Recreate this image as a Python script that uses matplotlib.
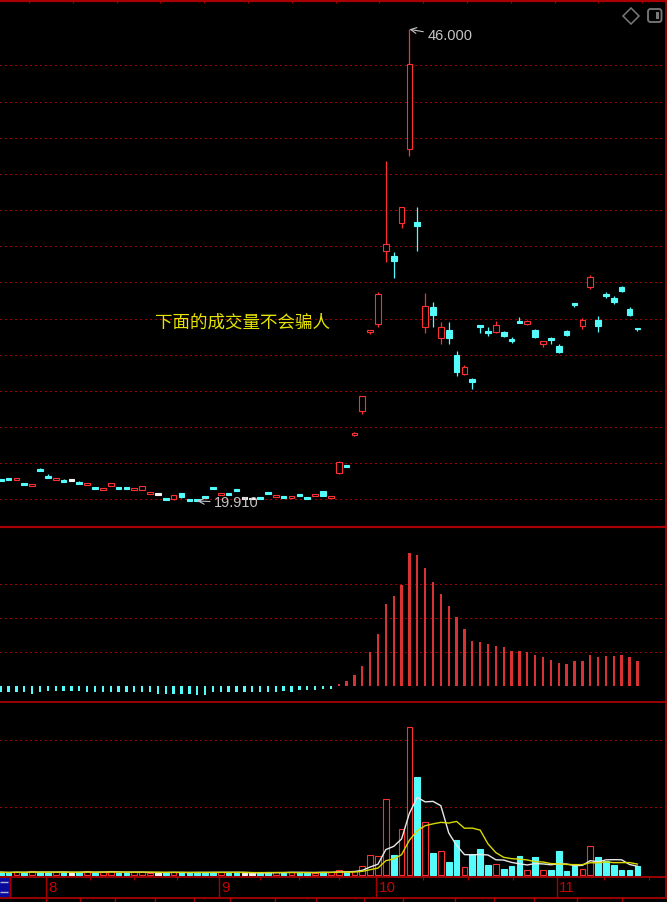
import numpy as np
import pandas as pd
import matplotlib
matplotlib.use('Agg')
import matplotlib.pyplot as plt
import matplotlib.patches as mpatches

# daily bars, Aug .. Nov (82 sessions)
opens = [21.09, 21.15, 21.11, 20.88, 20.77, 21.63, 21.27, 21.11, 21.02, 21.06,
         20.94, 20.83, 20.67, 20.54, 20.74, 20.67, 20.67, 20.56, 20.54, 20.35,
         20.30, 20.06, 20.00, 20.34, 19.97, 20.00, 20.17, 20.67, 20.25, 20.32,
         20.52, 20.06, 20.05, 20.08, 20.39, 20.16, 20.17, 20.09, 20.25, 20.10,
         20.20, 20.45, 20.09, 21.44, 21.88, 23.60, 24.91, 29.26, 29.68, 33.75,
         33.46, 35.27, 39.36, 35.33, 29.52, 30.62, 28.91, 29.37, 27.99, 26.92,
         26.66, 29.64, 29.29, 29.24, 29.24, 28.82, 29.85, 29.68, 29.37, 28.59,
         28.89, 28.47, 29.31, 30.82, 29.59, 31.73, 29.94, 31.32, 31.12, 31.73,
         30.53, 29.50]
highs = [21.10, 21.16, 21.18, 20.89, 20.85, 21.72, 21.38, 21.18, 21.13, 21.08,
         21.02, 20.88, 20.68, 20.61, 20.93, 20.68, 20.68, 20.63, 20.73, 20.40,
         20.32, 20.07, 20.24, 20.35, 19.98, 20.02, 20.18, 20.68, 20.32, 20.33,
         20.53, 20.08, 20.07, 20.09, 20.40, 20.23, 20.18, 20.16, 20.26, 20.11,
         20.27, 20.47, 20.16, 22.10, 21.90, 23.71, 25.72, 29.37, 31.49, 38.70,
         33.70, 36.19, 46.00, 36.19, 31.40, 30.90, 29.79, 29.79, 28.21, 27.43,
         26.70, 29.66, 29.52, 29.87, 29.31, 28.96, 30.07, 29.90, 29.42, 28.78,
         29.00, 28.61, 29.37, 30.84, 30.02, 32.41, 30.14, 31.45, 31.25, 31.80,
         30.62, 29.50]
lows = [21.03, 21.10, 21.10, 20.82, 20.76, 21.58, 21.22, 21.10, 20.97, 21.04,
        20.89, 20.82, 20.62, 20.53, 20.73, 20.62, 20.62, 20.55, 20.53, 20.34,
        20.28, 20.01, 19.99, 20.08, 19.93, 19.91, 20.12, 20.62, 20.24, 20.27,
        20.47, 20.04, 20.03, 20.03, 20.34, 20.15, 20.06, 20.08, 20.20, 20.05,
        20.19, 20.17, 20.08, 21.42, 21.82, 23.52, 24.71, 29.13, 29.52, 33.11,
        32.23, 34.99, 39.01, 33.75, 29.22, 29.52, 28.59, 28.59, 26.82, 26.90,
        26.12, 29.19, 29.04, 29.22, 28.96, 28.63, 29.79, 29.66, 28.94, 28.43,
        28.59, 28.08, 29.04, 30.62, 29.44, 31.64, 29.24, 31.15, 30.81, 31.47,
        30.16, 29.31]
closes = [21.04, 21.11, 21.17, 20.83, 20.84, 21.59, 21.23, 21.17, 20.98, 21.06,
          20.90, 20.87, 20.63, 20.60, 20.92, 20.63, 20.63, 20.62, 20.72, 20.39,
          20.30, 20.02, 20.23, 20.15, 19.94, 19.96, 20.13, 20.63, 20.31, 20.28,
          20.48, 20.06, 20.05, 20.04, 20.35, 20.22, 20.13, 20.15, 20.21, 20.06,
          20.26, 20.19, 20.15, 22.08, 21.84, 23.63, 25.72, 29.37, 31.36, 34.11,
          33.18, 36.19, 44.06, 35.12, 30.70, 30.20, 29.52, 28.91, 27.03, 27.31,
          26.49, 29.58, 29.25, 29.63, 29.05, 28.78, 29.81, 29.87, 28.96, 28.76,
          28.85, 28.14, 29.09, 30.77, 29.92, 32.28, 29.59, 31.28, 30.90, 31.53,
          30.21, 29.41]

# indicator of the middle panel
indicator = [-5.7, -5.7, -5.7, -6.3, -7.7, -5.7, -5.0, -5.0, -5.0, -5.0,
             -5.0, -6.3, -6.3, -6.3, -6.3, -6.3, -6.3, -6.3, -6.3, -6.3,
             -7.7, -7.7, -7.7, -7.7, -8.3, -9.0, -9.0, -6.3, -6.3, -6.3,
             -5.7, -5.7, -5.7, -6.3, -5.7, -5.7, -5.0, -5.7, -4.3, -4.3,
             -4.3, -3.0, -2.7, 2.0, 4.7, 10.7, 20.5, 34.5, 52.0, 82.0,
             90.0, 101.0, 133.5, 131.0, 118.5, 104.5, 92.5, 80.5, 69.5, 57.5,
             45.5, 44.5, 42.0, 40.5, 38.7, 35.0, 35.0, 34.0, 31.0, 28.7,
             26.0, 23.3, 22.0, 24.7, 24.7, 31.0, 28.7, 30.0, 30.0, 31.0,
             28.7, 24.7]

# volume of the bottom panel
volumes = [2.5, 2.0, 3.0, 2.0, 3.5, 2.5, 2.0, 3.0, 2.5, 2.0,
           2.5, 3.5, 2.0, 3.0, 3.5, 2.0, 2.0, 2.5, 3.0, 2.0,
           1.5, 2.0, 3.0, 2.5, 2.0, 2.0, 2.0, 3.0, 3.0, 2.0,
           2.0, 1.5, 1.5, 2.0, 2.5, 2.5, 2.0, 3.0, 2.0, 2.0,
           2.0, 3.0, 2.5, 4.4, 2.5, 3.4, 8.7, 19.4, 18.4, 75.7,
           19.4, 45.7, 148.0, 98.0, 53.0, 22.0, 24.0, 12.4, 34.7, 7.4,
           20.7, 25.7, 10.0, 10.7, 6.0, 9.0, 18.7, 4.4, 17.4, 4.4,
           4.7, 23.4, 3.7, 9.0, 5.7, 28.4, 17.4, 13.7, 10.0, 5.0,
           5.0, 8.7]

month_labels = ['8', '9', '10', '11']
month_starts = [6, 28, 48, 71]
price_grid = [20, 22, 24, 26, 28, 30, 32, 34, 36, 38, 40, 42, 44]
high_label = '46.000'
low_label = '19.910'
note_text = '下面的成交量不会骗人'

W, H = 667, 902
STEP = 7.86      # pixels per bar
X0 = 0.7         # pixel centre of bar 0


class UI:
    red = '#ff3030'
    cyan = '#54fcfc'
    white = '#f2f2f2'
    grid = '#a00000'
    frame = '#a80000'
    label = '#c4c4c4'
    note = '#e4e400'
    ma5 = '#e8e8e8'
    ma10 = '#d8d800'
    bar_red = '#d83232'


fig = plt.figure(figsize=(W / 100, H / 100), dpi=100, facecolor='black')


def px_axes(top, bottom):
    ax = fig.add_axes((0, 1 - bottom / H, 1, (bottom - top) / H))
    ax.set_xlim(-X0 / STEP, (W - X0) / STEP)
    ax.axis('off')
    return ax


def dotted(ax, y):
    # fine 1px dots, about 4px apart
    ax.axhline(y, color=UI.grid, lw=1.0, linestyle=(0, (0.75, 2.35)),
               antialiased=False, zorder=1)


def colour_of(o, c):
    if c > o:
        return UI.red
    if c < o:
        return UI.cyan
    return UI.white


xs = np.arange(len(closes))
colours = [colour_of(o, c) for o, c in zip(opens, closes)]

# ---------------- price panel
axPrice = px_axes(3, 526)
# 46.0 sits at y=29.3 px, 18.08 px per unit
axPrice.set_ylim(46 - (526 - 29.3) / 18.08, 46 + (29.3 - 3) / 18.08)
for g in price_grid:
    dotted(axPrice, g)

min_body = 0.1
for i, (o, h, l, c) in enumerate(zip(opens, highs, lows, closes)):
    col = colours[i]
    axPrice.vlines(i, l, h, color=col, lw=0.9, zorder=2)
    lo, hi = min(o, c), max(o, c)
    if hi - lo < min_body:
        mid = (hi + lo) / 2
        lo, hi = mid - min_body / 2, mid + min_body / 2
    face = 'black' if c > o else col
    axPrice.add_patch(mpatches.Rectangle((i - 0.36, lo), 0.72, hi - lo, facecolor=face,
                                         edgecolor=col, lw=0.8, zorder=3))

i_hi = int(np.argmax(highs))
i_lo = int(np.argmin(lows))
axPrice.annotate(high_label, xy=(i_hi, highs[i_hi]), xytext=(18, -7), textcoords='offset pixels',
                 ha='left', va='center', color=UI.label, fontsize=10.5, family='Liberation Sans',
                 arrowprops=dict(arrowstyle='->', color=UI.label, lw=0.8, shrinkA=1, shrinkB=0))
axPrice.annotate(low_label, xy=(i_lo, lows[i_lo]), xytext=(17, -1.5), textcoords='offset pixels',
                 ha='left', va='center', color=UI.label, fontsize=10.5, family='Liberation Sans',
                 arrowprops=dict(arrowstyle='->', color=UI.label, lw=0.8, shrinkA=1, shrinkB=0))

# ---------------- indicator panel
axInd = px_axes(527, 701)
axInd.set_ylim(-15, 159)
for g in (34, 68, 102):
    dotted(axInd, g)
axInd.bar(xs, indicator, width=0.3,
          color=[UI.bar_red if v > 0 else UI.cyan for v in indicator], zorder=2)

# ---------------- volume panel
axVol = px_axes(702, 876.7)
axVol.set_ylim(-2, 172.7)
for g in (67.5, 134.4):
    dotted(axVol, g)
vol_face = ['black' if c == UI.red else c for c in colours]
axVol.bar(xs, volumes, width=0.72, color=vol_face, edgecolor=colours, lw=0.8, zorder=2)
vol = pd.Series(volumes)
axVol.plot(xs, vol.rolling(5, min_periods=1).mean(), color=UI.ma5, lw=1.0, zorder=4)
axVol.plot(xs, vol.rolling(10, min_periods=1).mean(), color=UI.ma10, lw=1.0, zorder=4)

# ---------------- frame, date strip, decorations (pixel coords)
over = fig.add_axes((0, 0, 1, 1))
over.set_xlim(0, W)
over.set_ylim(H, 0)
over.axis('off')


def hline(y, x0=0, x1=W, lw=1.0, color=UI.frame):
    over.plot([x0, x1], [y, y], color=color, lw=lw, solid_capstyle='butt')


def vline(x, y0, y1, lw=1.0, color=UI.frame):
    over.plot([x, x], [y0, y1], color=color, lw=lw, solid_capstyle='butt')


hline(1.2, lw=1.6)
for tx in np.arange(29, W, 43.8):
    vline(tx, 0, 3, lw=0.8)
hline(526.5, lw=1.6)
hline(701.5, lw=1.3)
hline(876.7, lw=1.3)
hline(897.5, lw=1.3)
vline(666, 0, 897, lw=1.2)

for label, start in zip(month_labels, month_starts):
    mx = X0 + STEP * start - 1.5
    vline(mx, 876.7, 897, lw=1.0)
    over.text(mx + 2, 888, label, color='#c80000', fontsize=11, family='Liberation Sans',
              ha='left', va='center')
for tx in (90, 134, 177, 260, 299, 339, 423, 468, 513, 604, 649):
    vline(tx, 876.7, 880, lw=0.8)

# small button at the lower left
over.add_patch(mpatches.Rectangle((0, 877.5), 9.5, 19, facecolor='#0a0a9c', edgecolor='none'))
hline(881.5, 0, 7.5, lw=1.0, color='#b0b0d0')
hline(892, 0, 7.5, lw=1.0, color='#b0b0d0')
vline(9.8, 877, 897, lw=1.0)

# tab separators of the bottom strip
for tx in (45.5, 80, 115, 155, 193.6, 229.8, 274.5, 315.7, 363.8, 403.4, 454.5, 493.6, 534, 576.6, 622):
    vline(tx, 897.5, 902, lw=1.0)

# icons top right
over.plot(631, 15.5, marker='D', ms=8, mfc='none', mec='#7a7a7a', mew=1.1)
over.add_patch(mpatches.FancyBboxPatch((648, 9), 13.5, 13, boxstyle='round,pad=0,rounding_size=2.5',
                                       facecolor='none', edgecolor='#7a7a7a', lw=1.3))
over.add_patch(mpatches.Rectangle((655.5, 12), 3.5, 7, facecolor='#7a7a7a', edgecolor='none'))

over.text(155, 323, note_text, color=UI.note, fontsize=12.6,
          family=['Noto Sans CJK SC', 'DejaVu Sans'], ha='left', va='center')

fig.savefig('out.png', dpi=100, facecolor='black')
